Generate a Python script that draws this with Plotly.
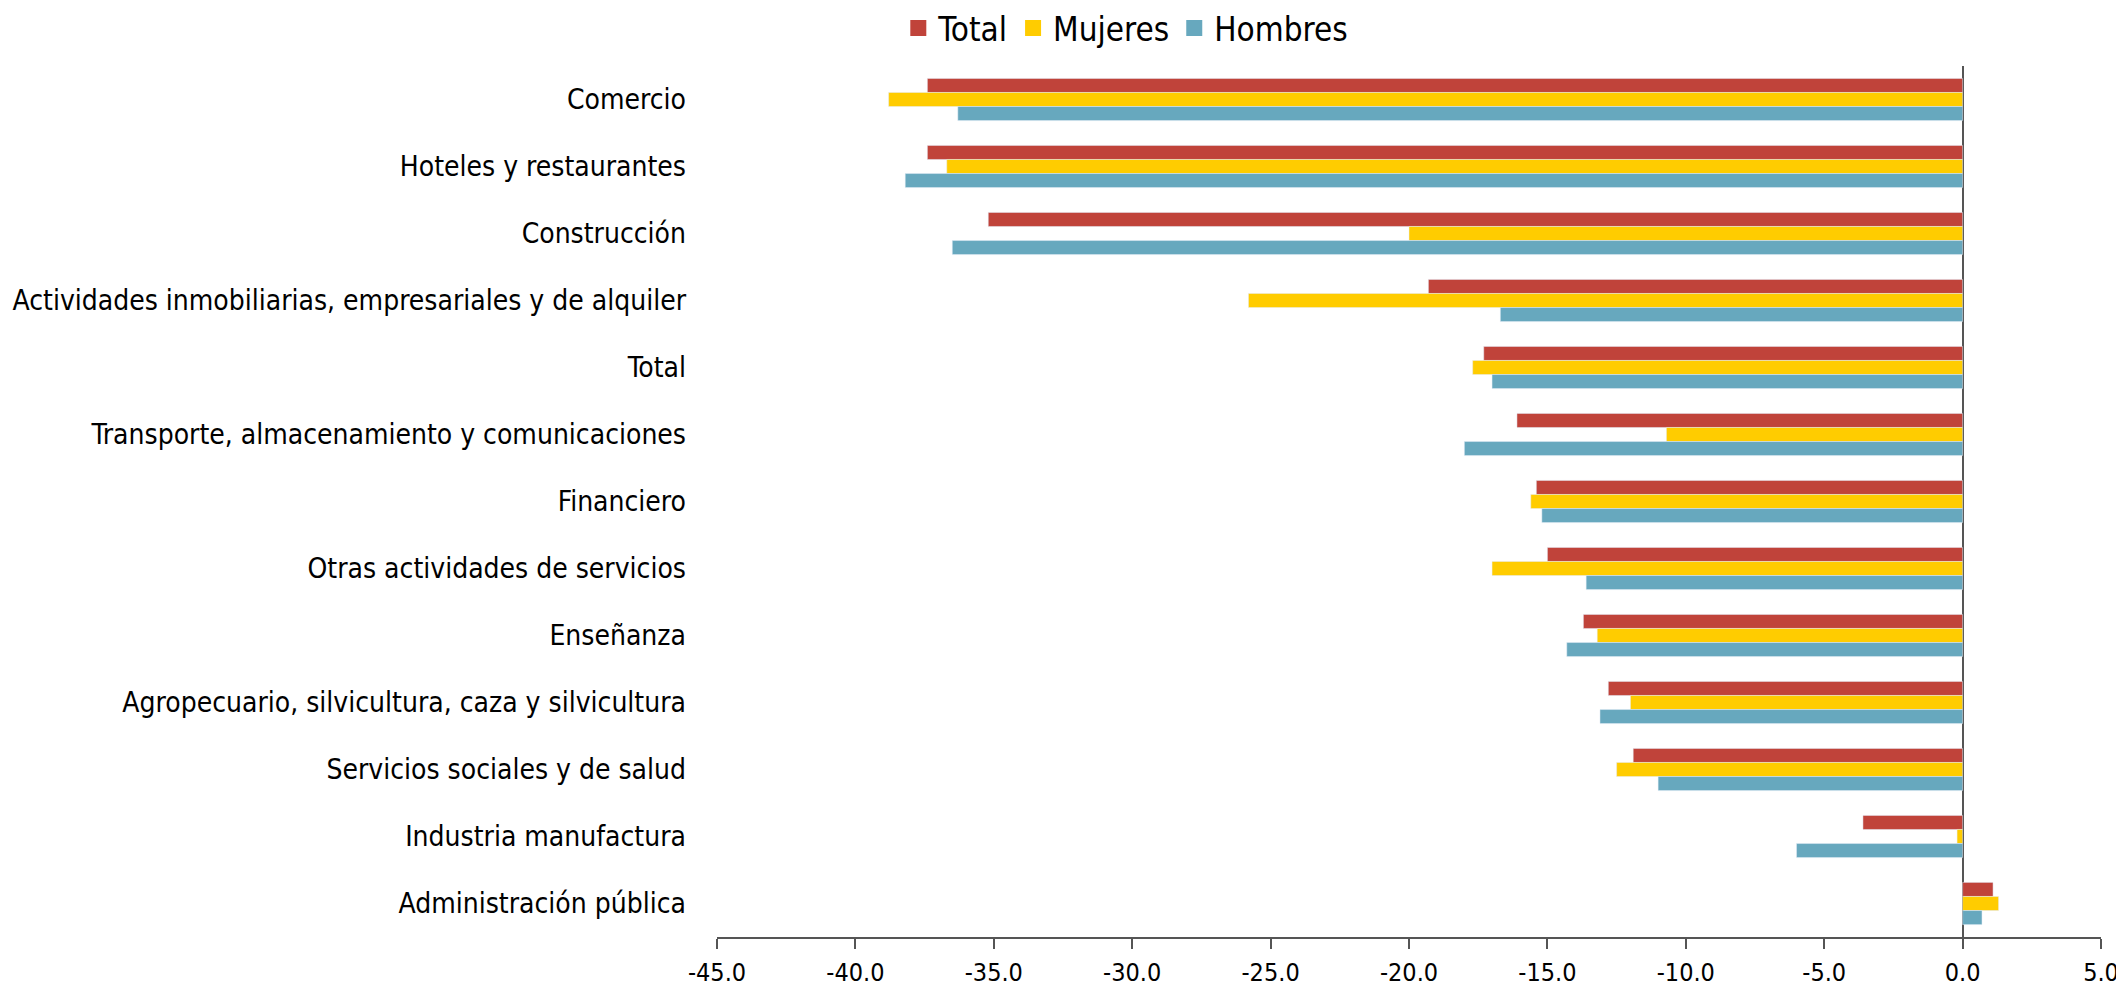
import plotly.graph_objects as go

categories = [
    "Comercio",
    "Hoteles y restaurantes",
    "Construcción",
    "Actividades inmobiliarias, empresariales y de alquiler",
    "Total",
    "Transporte, almacenamiento y comunicaciones",
    "Financiero",
    "Otras actividades de servicios",
    "Enseñanza",
    "Agropecuario, silvicultura, caza y silvicultura",
    "Servicios sociales y de salud",
    "Industria manufactura",
    "Administración pública",
]
total = [-37.4, -37.4, -35.2, -19.3, -17.3, -16.1, -15.4, -15.0, -13.7, -12.8, -11.9, -3.6, 1.1]
mujeres = [-38.8, -36.7, -20.0, -25.8, -17.7, -10.7, -15.6, -17.0, -13.2, -12.0, -12.5, -0.2, 1.3]
hombres = [-36.3, -38.2, -36.5, -16.7, -17.0, -18.0, -15.2, -13.6, -14.3, -13.1, -11.0, -6.0, 0.7]

series_names = ["Total", "Mujeres", "Hombres"]
series_colors = ["rgb(192,67,58)", "rgb(255,204,0)", "rgb(103,168,190)"]

tick_vals = [-45, -40, -35, -30, -25, -20, -15, -10, -5, 0, 5]
tick_text = ["%.1f" % v for v in tick_vals]

FONT = "Liberation Sans Narrow, DejaVu Sans Condensed, sans-serif"

fig = go.Figure()
for name, vals, col in zip(series_names, [total, mujeres, hombres], series_colors):
    fig.add_trace(go.Bar(y=categories, x=vals, name=name, orientation="h",
                         marker=dict(color=col), showlegend=False))
# legend entries with bigger square swatches
for name, col in zip(series_names, series_colors):
    fig.add_trace(go.Scatter(x=[None], y=[None], mode="markers", name=name,
                             marker=dict(symbol="square", size=20, color=col)))

# page body has an 8px margin, so the figure is kept a bit smaller than the window
fig.update_layout(
    width=2116, height=980,
    barmode="group", bargap=0.37, bargroupgap=0,
    plot_bgcolor="white", paper_bgcolor="white",
    font=dict(family=FONT, size=28, color="black"),
    margin=dict(l=709, r=23, t=58, b=51, autoexpand=False),
    legend=dict(orientation="h", x=0.131, xanchor="left", y=1.0436, yanchor="middle",
                font=dict(size=33), traceorder="normal", itemwidth=30,
                tracegroupgap=0),
    xaxis=dict(range=[-45, 5], tickvals=tick_vals, ticktext=tick_text,
               showgrid=False, zeroline=True, zerolinecolor="#555", zerolinewidth=2,
               showline=True, linecolor="#555", linewidth=2,
               ticks="outside", ticklen=10, tickcolor="#555", tickwidth=2,
               tickfont=dict(size=25), ticklabelstandoff=2),
    yaxis=dict(autorange="reversed", showgrid=False, showline=False, ticks="",
               ticklabelstandoff=30),
)

fig.write_html("out.html")
